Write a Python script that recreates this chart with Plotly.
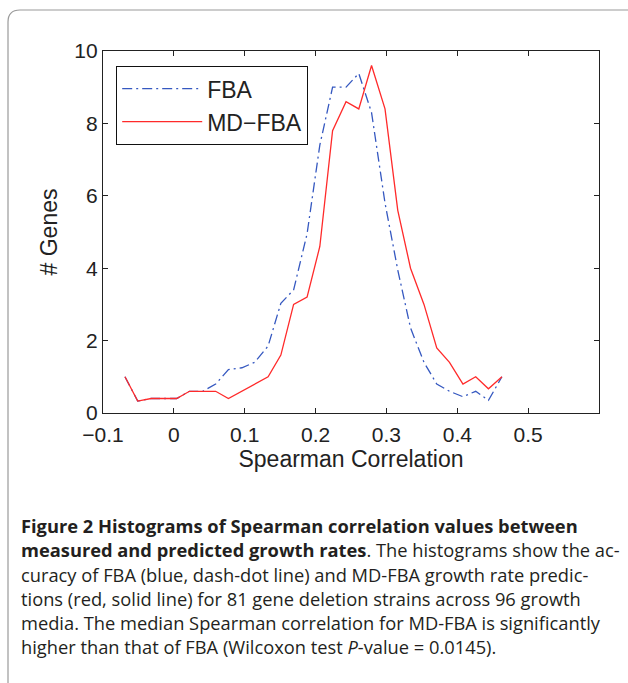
import plotly.graph_objects as go

# Bin centres of Spearman correlation (shared by both histograms)
corr_bins = [-0.069, -0.051, -0.032, -0.014, 0.004, 0.022, 0.041, 0.059, 0.077, 0.096,
             0.114, 0.133, 0.151, 0.169, 0.188, 0.206, 0.224, 0.243, 0.261, 0.279,
             0.298, 0.316, 0.334, 0.353, 0.371, 0.389, 0.408, 0.426, 0.444, 0.463]

fba_genes = [1.0, 0.33, 0.4, 0.4, 0.4, 0.6, 0.6, 0.8, 1.2, 1.25,
             1.4, 1.85, 3.03, 3.4, 4.95, 7.4, 9.0, 9.0, 9.38, 8.3,
             5.8, 3.95, 2.35, 1.4, 0.8, 0.6, 0.45, 0.6, 0.35, 1.0]

mdfba_genes = [1.0, 0.33, 0.4, 0.4, 0.4, 0.6, 0.6, 0.6, 0.4, 0.6,
               0.8, 1.0, 1.6, 3.0, 3.2, 4.6, 7.8, 8.6, 8.4, 9.6,
               8.4, 5.6, 4.0, 3.0, 1.8, 1.4, 0.8, 1.0, 0.67, 1.0]

x_tickvals = [-0.1, 0, 0.1, 0.2, 0.3, 0.4, 0.5]
x_ticktext = ["\u22120.1", "0", "0.1", "0.2", "0.3", "0.4", "0.5"]
y_tickvals = [0, 2, 4, 6, 8, 10]

caption_lines = [
    "<b>Figure 2 Histograms of Spearman correlation values between</b>",
    "<b>measured and predicted growth rates</b>. The histograms show the ac-",
    "curacy of FBA (blue, dash-dot line) and MD-FBA growth rate predic-",
    "tions (red, solid line) for 81 gene deletion strains across 96 growth",
    "media. The median Spearman correlation for MD-FBA is significantly",
    "higher than that of FBA (Wilcoxon test <i>P</i>-value = 0.0145).",
]

W, H = 628, 683
L, R, T, B = 103, 599, 51, 413  # plot area in pixels


def px(xp):
    return (xp - L) / (R - L)


def py(yp):
    return (B - yp) / (B - T)


fig = go.Figure()
fig.add_trace(go.Scatter(
    x=corr_bins, y=fba_genes, mode="lines", name="FBA", legendgroup="a",
    line=dict(color="#3558c0", width=1.3, dash="10px,4px,2px,4px"),
))
fig.add_trace(go.Scatter(
    x=corr_bins, y=mdfba_genes, mode="lines", name="MD\u2212FBA", legendgroup="b",
    line=dict(color="#ff2a2a", width=1.3),
))

tick_font = dict(family="Liberation Sans, Arial, sans-serif", size=21, color="#222222")
title_font = dict(family="Liberation Sans, Arial, sans-serif", size=23, color="#222222")

fig.update_xaxes(
    range=[-0.1, 0.6], tickvals=x_tickvals, ticktext=x_ticktext,
    ticks="inside", ticklen=5, tickcolor="#222", showline=True, linecolor="#222",
    linewidth=1.2, mirror="ticks", showgrid=False, zeroline=False,
    tickfont=tick_font, ticklabelstandoff=3,
    title=dict(text="Spearman Correlation", font=title_font, standoff=5),
)
fig.update_yaxes(
    range=[0, 10], tickvals=y_tickvals,
    ticks="inside", ticklen=5, tickcolor="#222", showline=True, linecolor="#222",
    linewidth=1.2, mirror="ticks", showgrid=False, zeroline=False,
    tickfont=tick_font,
    title=dict(text="# Genes", font=title_font, standoff=10),
)

annotations = []
caption_y = [525, 549, 574, 598, 622, 646]
for txt, yy in zip(caption_lines, caption_y):
    annotations.append(dict(
        text=txt, xref="paper", yref="paper", x=px(19), y=py(yy),
        xanchor="left", yanchor="middle", showarrow=False, align="left",
        font=dict(family="Open Sans, Noto Sans, sans-serif", size=18.3, color="#231f20"),
    ))

# rounded figure-frame border (left and top edges)
r = 12
frame_path = (f"M {px(8)},{py(720)} L {px(8)},{py(10 + r)} "
              f"Q {px(8)},{py(10)} {px(8 + r)},{py(10)} L {px(660)},{py(10)}")

fig.update_layout(
    width=W, height=H,
    margin=dict(l=L, r=W - R, t=T, b=H - B, autoexpand=False),
    paper_bgcolor="white", plot_bgcolor="white",
    showlegend=True,
    legend=dict(
        x=px(116), y=py(66), xanchor="left", yanchor="top",
        bordercolor="#111", borderwidth=1.2, bgcolor="white",
        font=dict(family="Liberation Sans, Arial, sans-serif", size=23, color="#222"),
        itemwidth=80, tracegroupgap=0, traceorder="grouped",
    ),
    annotations=annotations,
    shapes=[dict(type="path", path=frame_path, xref="paper", yref="paper",
                 line=dict(color="#9a9a9a", width=1.2), layer="above")],
)

fig.write_html("out.html", config={"displayModeBar": False},
               post_script="document.body.style.margin='0px';")
